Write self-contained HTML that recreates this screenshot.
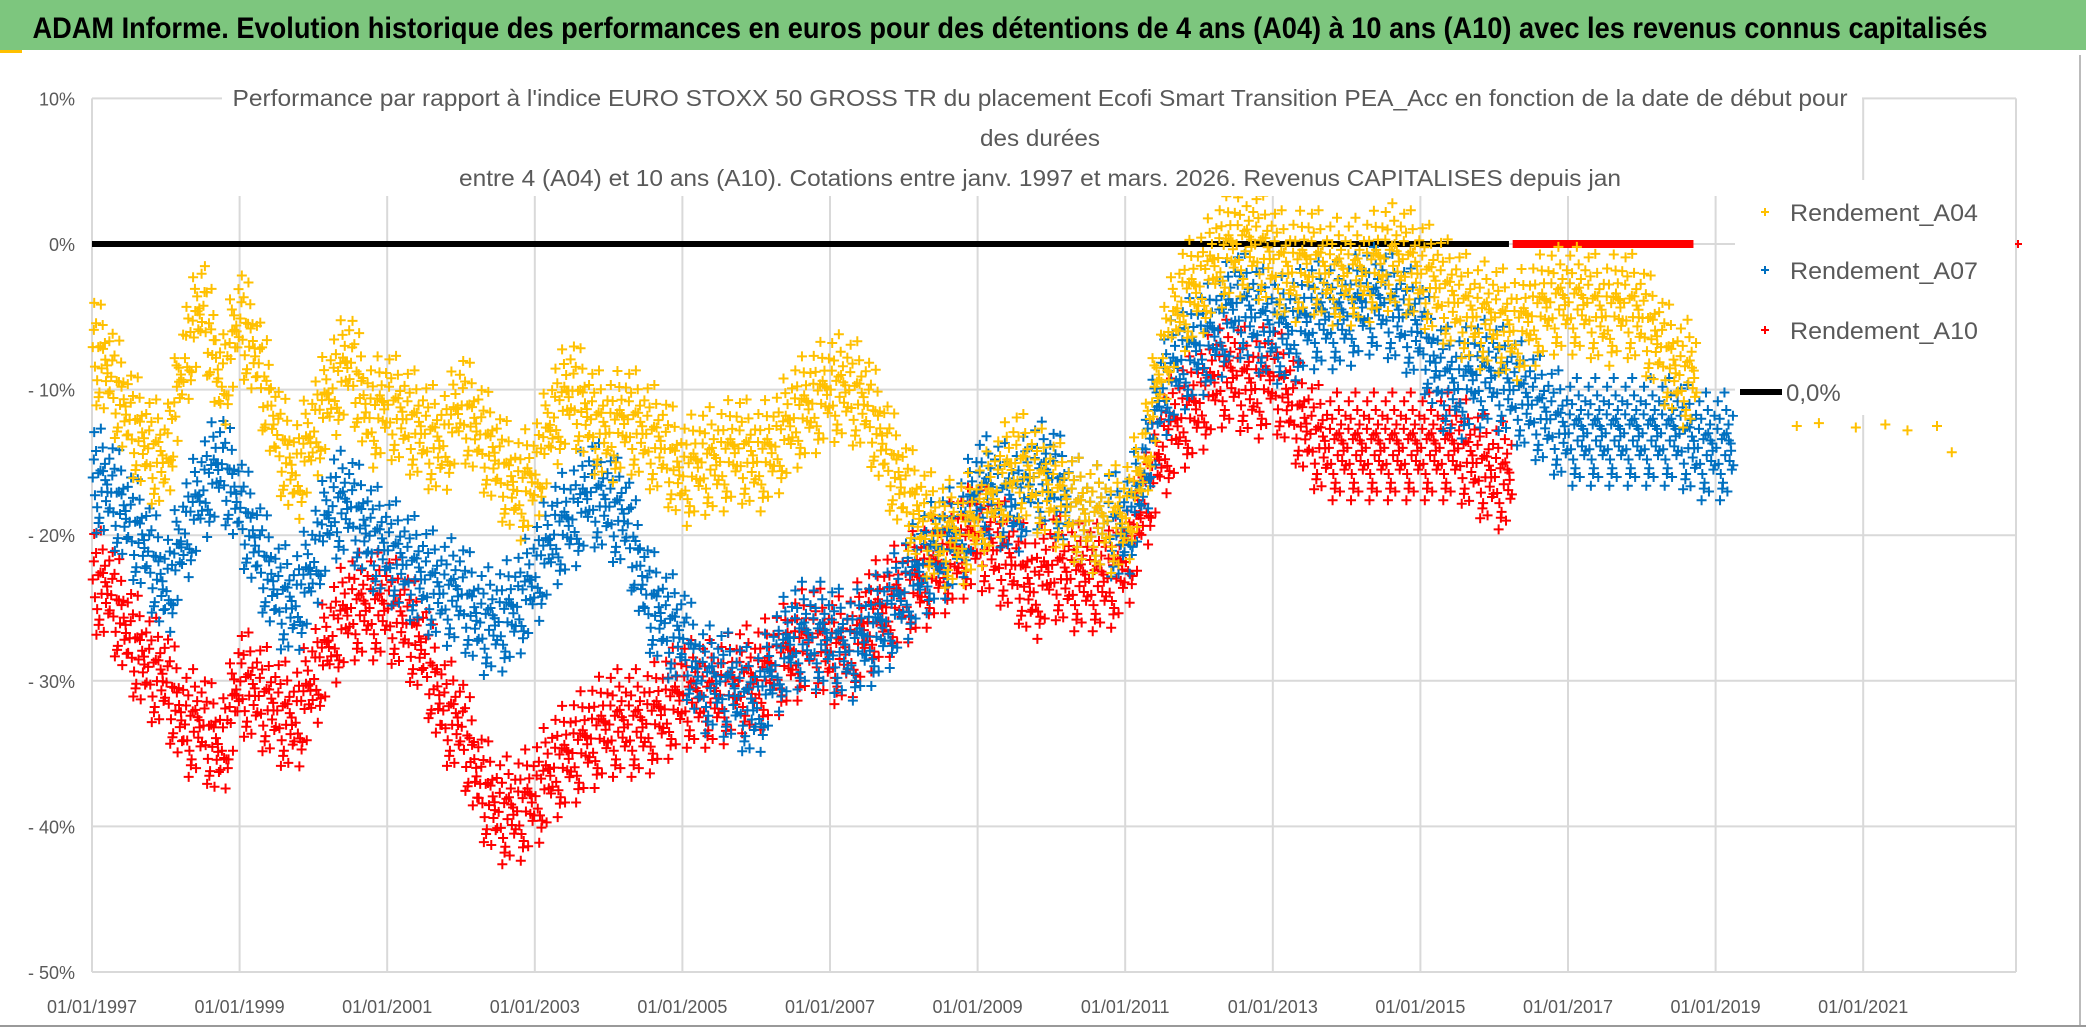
<!DOCTYPE html>
<html><head><meta charset="utf-8">
<style>
html,body{margin:0;padding:0;background:#fff;width:2086px;height:1031px;overflow:hidden;font-family:"Liberation Sans",sans-serif;}
</style></head>
<body>
<svg id="chart" width="2086" height="1031" xmlns="http://www.w3.org/2000/svg">
<rect x="0" y="0" width="2086" height="1031" fill="#fff"/>
<rect x="0" y="0" width="2086" height="50" fill="#7DC67E"/>
<rect x="0" y="50" width="22" height="3" fill="#FFC000"/>
<line x1="2080" y1="55" x2="2080" y2="1025" stroke="#bbb" stroke-width="2"/>
<line x1="0" y1="1026" x2="2086" y2="1026" stroke="#999" stroke-width="2"/>
<text x="1010" y="38" text-anchor="middle" font-size="30" font-weight="bold" fill="#000" textLength="1955" lengthAdjust="spacingAndGlyphs">ADAM Informe. Evolution historique des performances en euros pour des détentions de 4 ans (A04) à 10 ans (A10) avec les revenus connus capitalisés</text>
<g id="grid"></g>
<g id="marks"></g>
<rect x="222" y="78" width="1640" height="118" fill="#fff"/>
<g fill="#595959" font-size="23" text-anchor="middle">
<text x="1040" y="106" textLength="1615" lengthAdjust="spacingAndGlyphs">Performance par rapport à l'indice EURO STOXX 50 GROSS TR  du placement Ecofi Smart Transition PEA_Acc en fonction de la date de début pour</text>
<text x="1040" y="146" textLength="120" lengthAdjust="spacingAndGlyphs">des durées</text>
<text x="1040" y="186" textLength="1162" lengthAdjust="spacingAndGlyphs">entre 4 (A04) et 10 ans (A10). Cotations entre janv. 1997 et mars. 2026. Revenus CAPITALISES depuis jan</text>
</g>
<g id="legend" font-size="24" fill="#595959"></g>
<g id="axes" font-size="18" fill="#595959"></g>
</svg>
<script>
const yTicks = [10, 0, -10, -20, -30, -40, -50];
const yTickLabels = ["10%", "0%", "- 10%", "- 20%", "- 30%", "- 40%", "- 50%"];
const xTickYears = [1997, 1999, 2001, 2003, 2005, 2007, 2009, 2011, 2013, 2015, 2017, 2019, 2021];
const xTickLabels = ["01/01/1997","01/01/1999","01/01/2001","01/01/2003","01/01/2005","01/01/2007","01/01/2009","01/01/2011","01/01/2013","01/01/2015","01/01/2017","01/01/2019","01/01/2021"];
const startYear = 1997;
// quarterly values (%)
const a04 = [-7,-9,-12,-14, -15,-8,-4,-10, -5,-8,-13,-16, -13,-10,-8,-12, -11,-12,-13,-14, -11,-13,-15,-17, -16,-12,-10,-12, -13,-12,-13,-14, -16,-15,-15,-14, -15,-14,-12,-11, -10,-10,-11,-14, -17,-19,-20,-20, -19,-17,-15,-16, -17,-18,-19,-19, -19,-15,-8,-4, -3,-1,0,0, -1,-2,-1,-2, -2,-2,-1,-1, -2,-3,-4,-5, -5,-6,-5,-4, -4,-4,-5,-4, -5,-7,-9];
const a04Late = [-12.5,-12.3,-12.6,-12.4,-12.8,-12.5,-14.3];
const a04LateYears = [2020.1,2020.4,2020.9,2021.3,2021.6,2022.0,2022.2];
const a07 = [-16,-17,-19,-21, -24,-20,-17,-15, -18,-21,-24,-25, -22,-18,-18,-20, -21,-22,-23,-24, -24,-26,-26,-25, -23,-20,-19,-17, -18,-19,-24,-26, -27,-30,-30,-31, -32,-29,-27,-27, -27,-28,-27,-26, -24,-22,-21,-20, -17,-17,-18,-16, -16,-18,-19,-19, -20,-16,-10,-8, -7,-6,-4,-5, -6,-6,-5,-5, -5,-4,-4,-5, -6,-9,-10,-9, -9,-10,-11,-12, -13,-13,-13,-13, -13,-13,-13,-14, -14];
const a10 = [-23,-24,-27,-29, -30,-33,-33,-35, -30,-31,-32,-33, -30,-27,-25,-25, -25,-26,-28,-32, -33,-37,-39,-39, -38,-36,-35,-34, -33,-33,-33,-32, -31,-31,-31,-30, -30,-29,-28,-27, -28,-28,-26,-25, -24,-23,-22,-21, -20,-21,-22,-24, -22,-23,-23,-23, -22,-18,-14,-12, -11,-9,-9,-10, -9,-11,-13,-14, -14,-14,-14,-14, -14,-14,-14,-15, -16];
const zeroLineEnd = 2016.2;
const a10ZeroStart = 2016.25, a10ZeroEnd = 2018.7;

const X0 = 92, PX_YEAR = 73.8, Y0 = 244, PX_PCT = 14.56, XR = 2016;
const xs = y => X0 + (y - startYear) * PX_YEAR;
const ys = v => Y0 - v * PX_PCT;
const NS = "http://www.w3.org/2000/svg";
function mk(tag, attrs, parent){const e=document.createElementNS(NS,tag);for(const k in attrs)e.setAttribute(k,attrs[k]);parent.appendChild(e);return e;}
const grid=document.getElementById('grid'), marks=document.getElementById('marks'), axes=document.getElementById('axes'), legend=document.getElementById('legend');

yTicks.forEach((t,i)=>{
  const l=mk('line',{x1:X0,x2:XR,y1:ys(t),y2:ys(t),stroke:'#d9d9d9','stroke-width':2},grid);
  
  
  const tx=mk('text',{x:75,y:ys(t)+7,'text-anchor':'end'},axes);
  tx.textContent=yTickLabels[i];
  
  
});
const vl=mk('line',{x1:X0,x2:X0,y1:ys(10),y2:ys(-50),stroke:'#d9d9d9','stroke-width':2},grid);


xTickYears.forEach((yr,i)=>{
  if(i>0){const l=mk('line',{x1:xs(yr),x2:xs(yr),y1:ys(10),y2:ys(-50),stroke:'#d9d9d9','stroke-width':2},grid);
  
  }
  const tx=mk('text',{x:xs(yr),y:1013,'text-anchor':'middle'},axes);
  tx.textContent=xTickLabels[i];
  
  
});
const rl=mk('line',{x1:XR,x2:XR,y1:ys(10),y2:ys(-50),stroke:'#d9d9d9','stroke-width':2},grid);



const offX=[0.01,0.025,0.04,0.055,0.07,0.085,0.1,0.115,0.13,0.145,0.16,0.175,0.19,0.205,0.22,0.235,0.03,0.09,0.15,0.21,0.06,0.12,0.18,0.24];
const offY=[0,1.3,-1.1,2.0,-1.8,0.6,-2.4,0.9,-0.5,2.6,-3.0,1.6,-0.9,0.3,-1.5,2.2,3.2,-2.8,1.0,-0.2,-3.6,3.8,0.5,-1.2];
function cross(x,y,col,g,s){mk('path',{d:`M${x-s} ${y}H${x+s}M${x} ${y-s}V${y+s}`,stroke:col,'stroke-width':2,fill:'none'},g);}
function series(vals,col,name){
  const g=mk('g',{},marks);
  
  
  vals.forEach((v,i)=>{
    const nxt = i+1<vals.length?vals[i+1]:v;
    for(let k=0;k<offX.length;k++){
      const f=offX[k]/0.25;
      cross(xs(startYear+i*0.25+offX[k]), ys(v+(nxt-v)*f+offY[k]), col, g, 5);
    }
  });
  return g;
}
const zl=mk('line',{x1:X0,x2:xs(zeroLineEnd),y1:ys(0),y2:ys(0),stroke:'#000','stroke-width':6},marks);


const gz=mk('line',{x1:xs(a10ZeroStart),x2:xs(a10ZeroEnd),y1:ys(0),y2:ys(0),stroke:'#FF0000','stroke-width':8},marks);


series(a10,'#FF0000','series-a10');
series(a07,'#0070C0','series-a07');
const g4=series(a04,'#FFC000','series-a04');
a04Late.forEach((v,i)=>cross(xs(a04LateYears[i]),ys(v),'#FFC000',g4,5));
cross(XR+2,ys(0),'#FF0000',marks,4);

const leg=[['Rendement_A04','#FFC000',212],['Rendement_A07','#0070C0',270],['Rendement_A10','#FF0000',330]];
mk('rect',{x:1735,y:180,width:280,height:235,fill:'#fff'},legend);
leg.forEach(([n,c,y])=>{
  const g=mk('g',{},legend);
  
  
  cross(1765,y,c,g,4);
  const t=mk('text',{x:1790,y:y+9,textLength:188,lengthAdjust:'spacingAndGlyphs'},g);t.textContent=n;
});
const gl=mk('g',{},legend);


mk('line',{x1:1740,x2:1782,y1:392,y2:392,stroke:'#000','stroke-width':6},gl);
const t0=mk('text',{x:1786,y:401},gl);t0.textContent='0,0%';
</script>
</body></html>
